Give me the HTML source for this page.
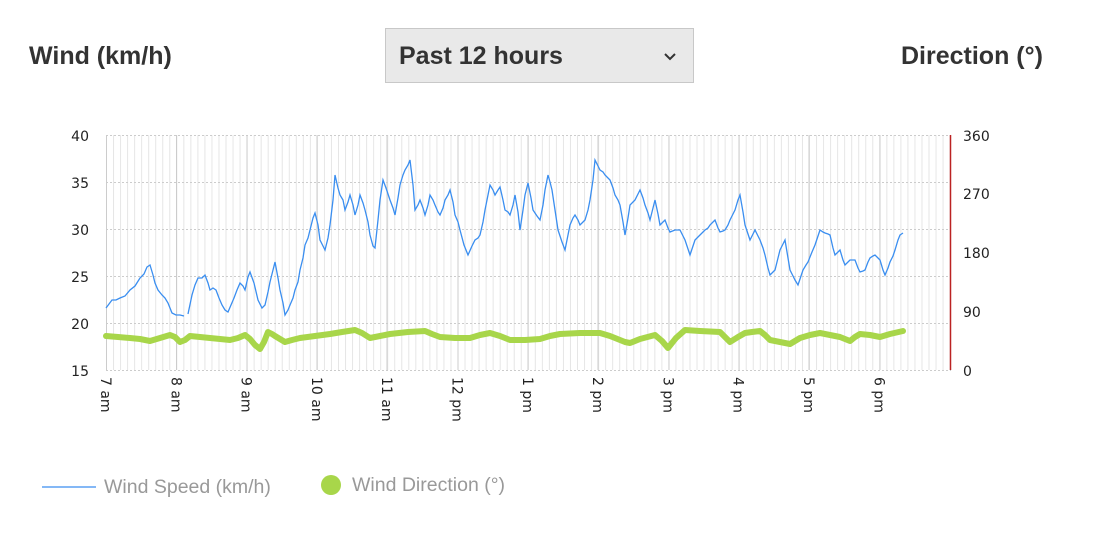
<!DOCTYPE html>
<html><head><meta charset="utf-8"><style>
body{margin:0;width:1098px;height:538px;background:#fff;overflow:hidden;position:relative;font-family:"Liberation Sans",sans-serif}
.t{position:absolute;font-weight:bold;font-size:25px;color:#333;top:42px}
.dd{position:absolute;left:385px;top:28px;width:309px;height:55px;background:#e9e9e9;border:1px solid #c8c8c8;box-sizing:border-box}
.dd span{position:absolute;left:13px;top:13px;font-weight:bold;font-size:25px;color:#333}
</style></head><body>
<div class="t" style="left:29px">Wind (km/h)</div>
<div class="t" style="left:901px">Direction (°)</div>
<div class="dd"><span>Past 12 hours</span>
<svg style="position:absolute;left:277px;top:23px" width="14" height="9"><polyline points="2,2 7,7 12,2" fill="none" stroke="#333" stroke-width="2"/></svg></div>
<svg width="1098" height="538" style="position:absolute;left:0;top:0" font-family="DejaVu Sans, sans-serif" font-size="14">
<g id="minor" stroke="#e6e6e6" stroke-width="1"></g>
<g stroke="#ccc" stroke-width="1">
<line x1="106.5" y1="135" x2="106.5" y2="370"/><line x1="176.5" y1="135" x2="176.5" y2="370"/><line x1="247" y1="135" x2="247" y2="370"/><line x1="317" y1="135" x2="317" y2="370"/><line x1="387" y1="135" x2="387" y2="370"/><line x1="458" y1="135" x2="458" y2="370"/><line x1="528" y1="135" x2="528" y2="370"/><line x1="598" y1="135" x2="598" y2="370"/><line x1="669" y1="135" x2="669" y2="370"/><line x1="739" y1="135" x2="739" y2="370"/><line x1="809" y1="135" x2="809" y2="370"/><line x1="880" y1="135" x2="880" y2="370"/>
</g>
<g stroke="#ccc" stroke-dasharray="2,2">
<line x1="106" y1="135.5" x2="951" y2="135.5"/><line x1="106" y1="182.5" x2="951" y2="182.5"/><line x1="106" y1="229.5" x2="951" y2="229.5"/><line x1="106" y1="276.5" x2="951" y2="276.5"/><line x1="106" y1="323.5" x2="951" y2="323.5"/><line x1="106" y1="370.5" x2="951" y2="370.5"/>
</g>
<line x1="950.5" y1="135" x2="950.5" y2="370" stroke="#b22" stroke-width="1.5"/>
<g fill="#222" text-anchor="end"><text x="89" y="141">40</text><text x="89" y="188">35</text><text x="89" y="235">30</text><text x="89" y="282">25</text><text x="89" y="329">20</text><text x="89" y="376">15</text></g>
<g fill="#222"><text x="963" y="141">360</text><text x="963" y="199">270</text><text x="963" y="258">180</text><text x="963" y="317">90</text><text x="963" y="376">0</text></g>
<g id="xl" fill="#222"></g>
<polyline fill="none" stroke="#3a8ef0" stroke-width="1.3" points="106,308 109,304 112,300 116,300 120,298 125,296 130,290 135,286 140,278 144,274 147,267 150,265 153,275 155,283 158,290 162,295 165,298 168,303 172,313 176,315 180,315 184,316"/>
<polyline fill="none" stroke="#3a8ef0" stroke-width="1.3" points="188,314 192,295 195,285 198,278 202,278 205,275 208,283 210,290 213,288 216,290 219,298 222,305 225,310 228,312 231,305 234,298 237,290 240,283 243,286 245,290 248,277 250,272 254,283 258,300 262,308 265,305 268,292 270,282 273,270 275,262 278,278 280,290 283,303 285,315 288,310 290,305 293,298 295,290 298,282 300,270 303,258 305,245 308,238 310,230 313,218 315,213 318,225 320,240 323,246 325,250 328,238 330,225 333,200 335,175 338,188 340,195 343,200 345,210 348,202 350,195 353,205 355,215 358,205 360,195 363,203 365,210 368,222 370,235 373,246 375,248 378,220 380,200 383,180 386,188 390,200 393,208 395,215 398,198 400,185 403,175 405,170 408,165 410,160 413,185 415,210 418,205 420,200 423,208 425,215 428,205 430,195 433,200 435,205 438,212 440,215 443,208 445,200 448,195 450,190 453,202 455,215 458,222 460,230 464,245 468,255 472,246 475,240 478,238 480,235 483,222 485,210 488,195 490,185 493,190 495,195 498,190 500,187 503,200 505,210 508,212 510,215 513,205 515,195 518,212 520,230 523,210 525,195 528,183 531,198 533,210 537,216 540,220 543,205 545,190 548,175 550,182 552,190 555,210 558,230 562,242 565,250 568,235 570,225 573,218 575,215 578,220 580,225 583,222 585,220 588,210 590,200 593,180 595,160 598,166 600,170 603,172 605,175 608,178 610,180 613,188 615,195 618,200 620,205 623,222 625,235 628,218 630,205 633,202 635,200 638,194 640,190 643,198 645,205 648,213 650,220 653,208 655,200 658,214 660,225 663,222 665,220 668,228 670,232 675,230 680,230 685,240 690,255 693,246 695,240 700,235 705,230 708,228 710,225 713,222 715,220 718,228 720,232 723,231 725,230 728,225 730,220 733,214 735,210 738,200 740,195 743,212 745,225 748,234 750,240 753,234 755,230 758,236 760,240 763,248 765,255 768,268 770,275 773,272 775,270 778,258 780,250 783,244 785,240 788,258 790,270 793,276 795,280 798,285 801,276 803,270 806,265 808,262 812,252 815,245 818,236 820,230 823,232 825,233 828,234 830,235 833,248 835,255 838,252 840,250 843,260 845,265 848,262 850,260 855,260 858,268 860,272 863,271 865,270 868,262 870,258 873,256 875,255 878,258 880,260 883,270 885,275 888,268 890,262 893,256 895,250 898,240 900,235 903,233"/>
<polyline fill="none" stroke="#a8d64a" stroke-width="6" stroke-linecap="round" stroke-linejoin="round" points="106,336 118,337 130,338 140,339 150,341 160,338 170,335 175,337 180,342 185,340 190,336 200,337 210,338 220,339 230,340 238,338 245,335 250,339 255,345 260,349 264,342 268,332 272,334 275,336 280,339 285,342 292,340 300,338 315,336 330,334 342,332 355,330 362,333 370,338 380,336 390,334 408,332 425,331 432,334 440,337 455,338 470,338 480,335 490,333 500,336 510,340 525,340 540,339 550,336 560,334 580,333 600,333 610,336 620,340 625,342 630,343 640,339 655,335 662,341 668,348 676,338 685,330 700,331 720,332 725,337 730,342 738,337 745,333 752,332 760,331 765,335 770,340 780,342 790,344 795,341 800,338 810,335 820,333 830,335 840,337 845,339 850,341 855,337 860,334 870,335 880,337 890,334 903,331"/>
<line x1="42" y1="487" x2="96" y2="487" stroke="#3a8ef0" stroke-width="1.3"/>
<circle cx="331" cy="485" r="10" fill="#a8d64a"/>
<g fill="#999" font-family="Liberation Sans, sans-serif" font-size="19.5"><text x="104" y="493">Wind Speed (km/h)</text><text x="352" y="491">Wind Direction (°)</text></g>
</svg>
<script>
var m=document.getElementById('minor'),s='';
for(var i=0;i<=120;i++){var x=106.5+i*7.03;if(x>951)break;s+='<line x1="'+x+'" y1="135" x2="'+x+'" y2="370"/>';}
m.innerHTML=s;
var l=['7 am','8 am','9 am','10 am','11 am','12 pm','1 pm','2 pm','3 pm','4 pm','5 pm','6 pm'],t='';
for(var j=0;j<12;j++){var x=106+j*70.3-5;t+='<text transform="translate('+x+',377) rotate(90)">'+l[j]+'</text>';}
document.getElementById('xl').innerHTML=t;
</script>
</body></html>
